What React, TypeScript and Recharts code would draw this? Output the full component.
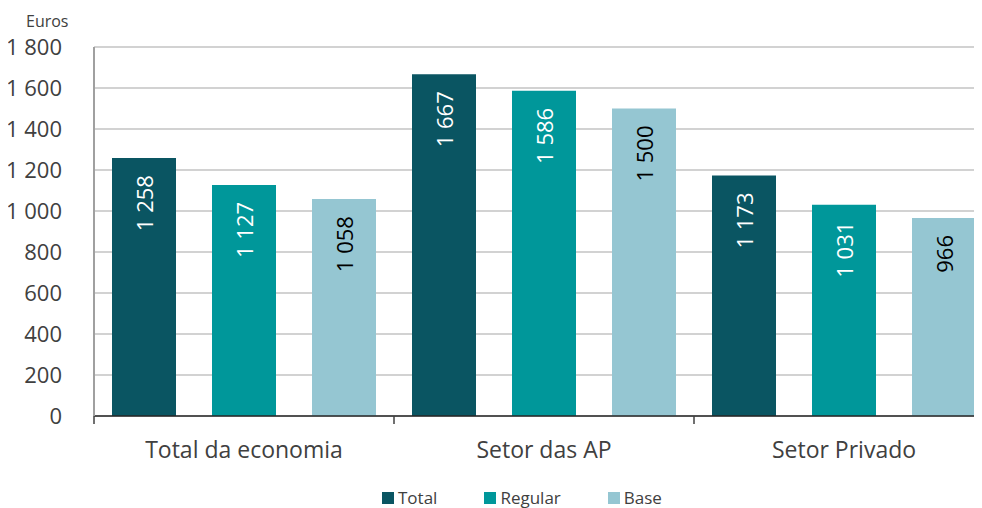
import React from "react";
import { BarChart, Bar, XAxis, YAxis, CartesianGrid, LabelList } from "recharts";

const categories = ["Total da economia", "Setor das AP", "Setor Privado"];
const totalValues = [1258, 1667, 1173];
const regularValues = [1127, 1586, 1031];
const baseValues = [1058, 1500, 966];
const yTicks = [0, 200, 400, 600, 800, 1000, 1200, 1400, 1600, 1800];

const data = categories.map((name, i) => ({
  name,
  total: totalValues[i],
  regular: regularValues[i],
  base: baseValues[i],
}));

const FONT = "'Open Sans', 'Noto Sans', sans-serif";
const TEXT = "#404040";

// space as thousands separator, like the source
const fmt = (v: number) => {
  if (v < 1000) return String(v);
  const rest = String(v % 1000).padStart(3, "0");
  return Math.floor(v / 1000) + " " + rest;
};

const makeLabel = (color: string) => (props: any) => {
  const { x, y, width, value } = props;
  const cx = x + width / 2;
  const ty = y + 17;
  return (
    <text
      x={cx}
      y={ty}
      transform={`rotate(-90, ${cx}, ${ty})`}
      textAnchor="end"
      dominantBaseline="central"
      fill={color}
      fontSize={22}
      fontFamily={FONT}
    >
      {fmt(value)}
    </text>
  );
};

const XTick = (props: any) => {
  const { x, y, payload, index } = props;
  const half = 150;
  return (
    <g>
      <line x1={x - half} x2={x - half} y1={y} y2={y + 8} stroke="#404040" strokeWidth={1.5} />
      {index === categories.length - 1 && (
        <line x1={x + half} x2={x + half} y1={y} y2={y + 8} stroke="#404040" strokeWidth={1.5} />
      )}
      <text x={x} y={y + 42} textAnchor="middle" fill={TEXT} fontSize={23} fontFamily={FONT}>
        {payload.value}
      </text>
    </g>
  );
};

const legendItems = [
  { label: "Total", color: "#0a5562" },
  { label: "Regular", color: "#00979a" },
  { label: "Base", color: "#95c6d2" },
];

export default function App() {
  return (
    <div style={{ position: "relative", margin: "-8px 0 0 -8px", width: 982, height: 508, overflow: "hidden" }}>
      <div
        style={{
          position: "absolute",
          left: 26,
          top: 10,
          fontFamily: FONT,
          fontSize: 16,
          color: TEXT,
        }}
      >
        Euros
      </div>
      <BarChart
        width={994}
        height={508}
        data={data}
        margin={{ top: 47, right: 0, bottom: 62, left: 0 }}
        barCategoryGap={18}
        barGap={36}
      >
        <CartesianGrid vertical={false} stroke="#a6a6a6" strokeWidth={1.2} />
        <XAxis
          dataKey="name"
          height={30}
          tickLine={false}
          tickSize={0}
          tickMargin={0}
          tick={<XTick />}
          axisLine={{ stroke: "#262626", strokeWidth: 1.5 }}
          interval={0}
        />
        <YAxis
          width={94}
          domain={[0, 1800]}
          ticks={yTicks}
          tickFormatter={fmt}
          tickLine={false}
          tickMargin={26}
          axisLine={{ stroke: "#a0a0a0", strokeWidth: 2 }}
          tick={{ fill: TEXT, fontSize: 22, fontFamily: FONT }}
        />
        <Bar dataKey="total" fill="#0a5562" isAnimationActive={false}>
          <LabelList dataKey="total" content={makeLabel("#ffffff")} />
        </Bar>
        <Bar dataKey="regular" fill="#00979a" isAnimationActive={false}>
          <LabelList dataKey="regular" content={makeLabel("#ffffff")} />
        </Bar>
        <Bar dataKey="base" fill="#95c6d2" isAnimationActive={false}>
          <LabelList dataKey="base" content={makeLabel("#000000")} />
        </Bar>
      </BarChart>
      <div
        style={{
          position: "absolute",
          left: 382,
          top: 487,
          display: "flex",
          gap: 47,
          fontFamily: FONT,
          fontSize: 17,
          color: TEXT,
          lineHeight: "22px",
        }}
      >
        {legendItems.map((it) => (
          <div key={it.label} style={{ display: "flex", alignItems: "center" }}>
            <span style={{ width: 12, height: 12, background: it.color, marginRight: 4, display: "inline-block" }} />
            {it.label}
          </div>
        ))}
      </div>
    </div>
  );
}
